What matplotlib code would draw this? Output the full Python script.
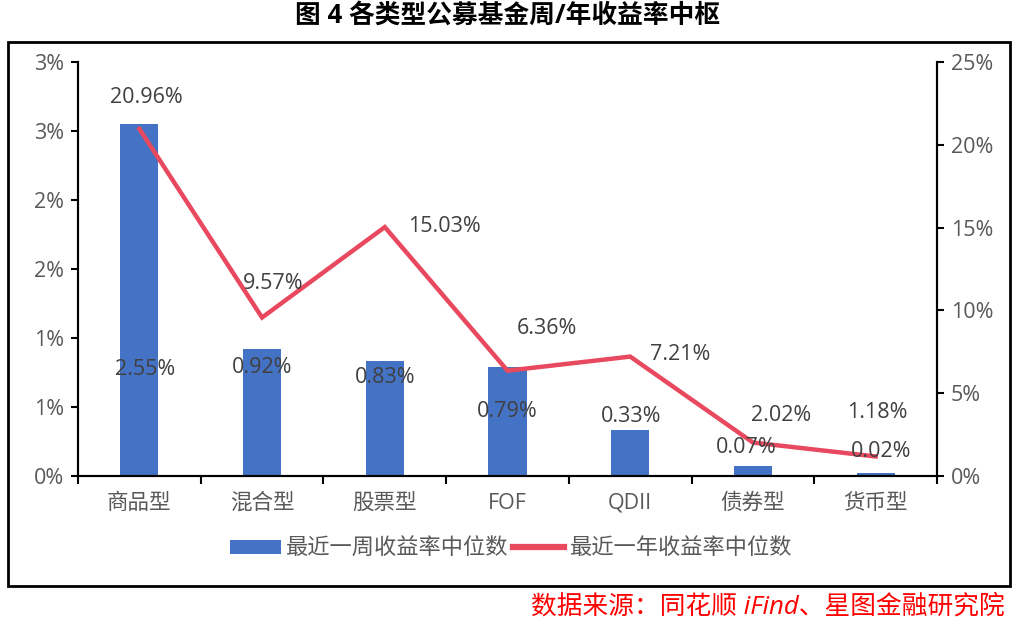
import matplotlib
matplotlib.use("Agg")
import matplotlib.pyplot as plt
from matplotlib.patches import Patch, Rectangle
from matplotlib.lines import Line2D

plt.rcParams["font.family"] = ["Open Sans", "Noto Sans CJK SC", "DejaVu Sans"]

# data
CATEGORIES = ["商品型", "混合型", "股票型", "FOF", "QDII", "债券型", "货币型"]
WEEK_MEDIAN = [2.55, 0.92, 0.83, 0.79, 0.33, 0.07, 0.02]      # left axis, %
YEAR_MEDIAN = [20.96, 9.57, 15.03, 6.36, 7.21, 2.02, 1.18]    # right axis, %
LEFT_TICKS = [0, 0.5, 1.0, 1.5, 2.0, 2.5, 3.0]
LEFT_TICK_LABELS = ["0%", "1%", "1%", "2%", "2%", "3%", "3%"]
RIGHT_TICKS = [0, 5, 10, 15, 20, 25]

# label placement (axes fraction for bar labels, pixel offsets for line labels)
BAR_LABEL_Y = [0.258, 0.263, 0.237, 0.157, 0.143, 0.070, 0.058]
BAR_LABEL_DX = [6, 0, 0, 0, 1, -7, 5]
LINE_LABEL_OFF = [(7, 31), (11, 34), (60, 1), (39, 42), (50, 2), (28, 27), (2, 44)]

BLUE = "#4472C4"
RED = "#E8495F"
TXT = "#404040"
TICK = "#595959"

fig = plt.figure(figsize=(10.16, 6.24), dpi=100)
ax = fig.add_axes([78 / 1016, 1 - 476 / 624, (937 - 78) / 1016, (476 - 62) / 624])
ax2 = ax.twinx()

x = list(range(len(CATEGORIES)))
ax.bar(x, WEEK_MEDIAN, width=0.31, color=BLUE, zorder=2)
ax2.plot(x, YEAR_MEDIAN, color=RED, lw=3.2, solid_joinstyle="miter", zorder=3)

ax.set_xlim(-0.5, len(CATEGORIES) - 0.5)
ax.set_ylim(0, 3)
ax2.set_ylim(0, 25)
ax.set_yticks(LEFT_TICKS)
ax.set_yticklabels(LEFT_TICK_LABELS)
ax2.set_yticks(RIGHT_TICKS)
ax2.set_yticklabels([f"{t}%" for t in RIGHT_TICKS])
ax.set_xticks(x)
ax.set_xticklabels(CATEGORIES)
ax.set_xticks([i - 0.5 for i in range(len(CATEGORIES) + 1)], minor=True)
ax.tick_params(axis="x", which="major", length=0, pad=12, labelsize=15.5, labelcolor=TICK)
ax.tick_params(axis="x", which="minor", length=6, width=1.5, color="black")
ax.tick_params(axis="y", length=5, width=1.5, labelsize=15.5, labelcolor=TICK, pad=5)
ax2.tick_params(axis="y", length=5, width=1.5, labelsize=15.5, labelcolor=TICK, pad=5)

for a in (ax, ax2):
    a.spines["top"].set_visible(False)
    for s in ("left", "right", "bottom"):
        a.spines[s].set_linewidth(1.5)
        a.spines[s].set_color("black")

# bar value labels (drawn on the twin axes so they sit above the line)
for i, v in enumerate(WEEK_MEDIAN):
    ax2.annotate(f"{v:.2f}%", xy=(i, BAR_LABEL_Y[i]), xycoords=("data", "axes fraction"),
                 xytext=(BAR_LABEL_DX[i], 0), textcoords="offset pixels",
                 ha="center", va="center", fontsize=15.5, color=TXT, zorder=5)

# line value labels
for i, v in enumerate(YEAR_MEDIAN):
    dx, dy = LINE_LABEL_OFF[i]
    ax2.annotate(f"{v:.2f}%", xy=(i, v), xytext=(dx, dy), textcoords="offset pixels",
                 ha="center", va="center", fontsize=15.5, color=TXT, zorder=5)

# legend
handles = [Patch(facecolor=BLUE, edgecolor="none", label="最近一周收益率中位数"),
           Line2D([0], [0], color=RED, lw=4.5, label="最近一年收益率中位数")]
fig.legend(handles=handles, loc="center", bbox_to_anchor=(0.503, 1 - 549 / 624), ncol=2,
           frameon=False, fontsize=16, labelcolor=TICK, handlelength=2.3, handleheight=0.6,
           handletextpad=0.25, columnspacing=0.2)

# outer frame
fig.patches.append(Rectangle((8 / 1016, 1 - 586 / 624), (1010 - 8) / 1016, (586 - 42) / 624,
                             transform=fig.transFigure, fill=False, edgecolor="black", lw=2))

fig.text(0.5, 1 - 15 / 624, "图 4 各类型公募基金周/年收益率中枢", ha="center", va="center",
         fontsize=18.5, fontweight="bold", color="black")
fig.text(1005 / 1016, 1 - 607 / 624, "数据来源：同花顺 iFind、星图金融研究院", ha="right", va="center",
         fontsize=18.5, color="#FF0000", style="italic")

fig.savefig("out.png", dpi=100)
